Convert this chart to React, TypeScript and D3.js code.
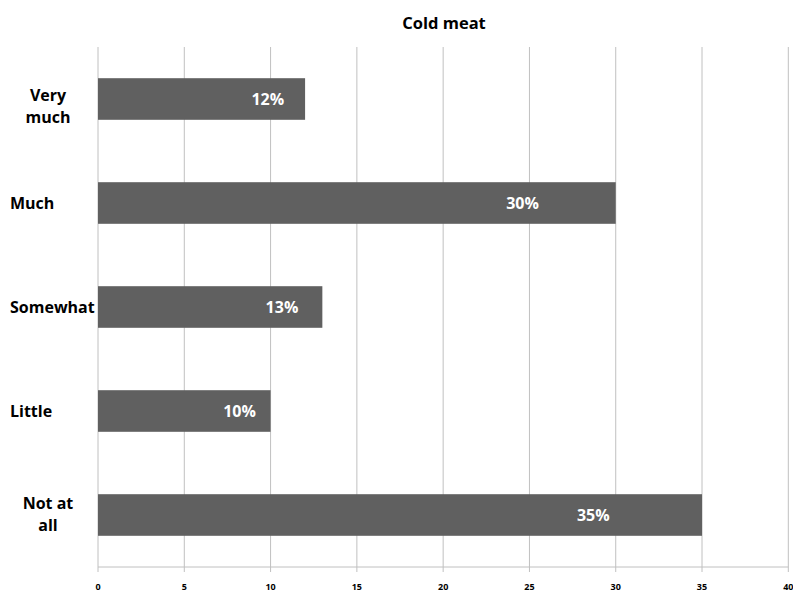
import React from "react";
import * as d3 from "d3";

const categories = ["Very much", "Much", "Somewhat", "Little", "Not at all"];
const categoryLines = [["Very", "much"], ["Much"], ["Somewhat"], ["Little"], ["Not at", "all"]];
const values = [12, 30, 13, 10, 35];
const ticks = [0, 5, 10, 15, 20, 25, 30, 35, 40];
const title = "Cold meat";

const W = 793;
const H = 593;
const M = { left: 98, right: 5, top: 47, bottom: 26 };

export default function App() {
  const x = d3.scaleLinear().domain([0, 40]).range([M.left, M.left + 690.3]);
  const y = d3
    .scaleBand<string>()
    .domain(categories)
    .range([M.top, H - M.bottom])
    .paddingInner(0.6)
    .paddingOuter(0.3);
  const font = "'Open Sans', 'Liberation Sans', sans-serif";
  const bottom = H - M.bottom;

  return (
    <svg
      width={W}
      height={H}
      style={{ position: "absolute", left: 0, top: 0, background: "#fff" }}
      fontFamily={font}
    >
      <text x={444} y={29} textAnchor="middle" fontSize={16.5} fontWeight="bold" fill="#000">
        {title}
      </text>
      {ticks.map((t) => (
        <g key={t}>
          <line x1={x(t)} x2={x(t)} y1={M.top} y2={bottom + 5} stroke="#c0c0c0" strokeWidth={1} />
          <text x={x(t)} y={590} textAnchor="middle" fontSize={9} fontWeight="bold" fill="#000">
            {t}
          </text>
        </g>
      ))}
      <line x1={x(0)} x2={x(40)} y1={bottom} y2={bottom} stroke="#c0c0c0" strokeWidth={1} />
      {categories.map((c, i) => {
        const yc = (y(c) as number) + y.bandwidth() / 2;
        const lines = categoryLines[i];
        const multi = lines.length > 1;
        const nudge = multi ? (i === 0 ? 7 : -1) : 0;
        return (
          <g key={c}>
            <rect
              x={x(0)}
              y={y(c) as number}
              width={x(values[i]) - x(0)}
              height={y.bandwidth()}
              fill="#606060"
            />
            <text
              x={x(values[i] * 0.82)}
              y={yc + 6}
              textAnchor="middle"
              fontSize={16}
              fontWeight="bold"
              fill="#fff"
            >
              {values[i]}%
            </text>
            {lines.map((ln, j) => (
              <text
                key={j}
                x={multi ? 48 : 10}
                y={yc + 6 + (j - (lines.length - 1) / 2) * 22 + nudge}
                textAnchor={multi ? "middle" : "start"}
                fontSize={16}
                fontWeight="bold"
                fill="#000"
              >
                {ln}
              </text>
            ))}
          </g>
        );
      })}
    </svg>
  );
}
